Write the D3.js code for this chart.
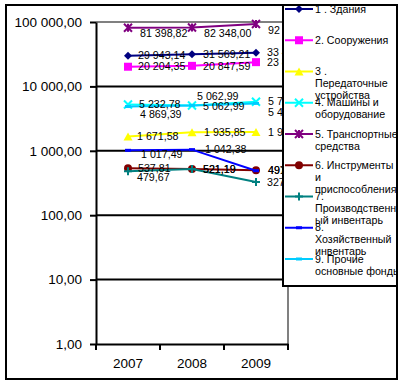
<!DOCTYPE html>
<html><head><meta charset="utf-8">
<script src="https://cdn.jsdelivr.net/npm/d3@7"></script>
<style>
html,body{margin:0;padding:0;background:#fff;}
svg{display:block;font-family:"Liberation Sans",Arial,sans-serif;}
</style></head>
<body><svg id="c" width="401" height="384"></svg>
<script>
// ---------- DATA ----------
const years = ["2007", "2008", "2009"];
const seriesNames = [
  ["1 . Здания"],
  ["2. Сооружения"],
  ["3 .", "Передаточные", "устройства"],
  ["4. Машины и", "оборудование"],
  ["5. Транспортные", "средства"],
  ["6. Инструменты", "и", "приспособления"],
  ["7.", "Производственн", "ый инвентарь"],
  ["8.", "Хозяйственный", "инвентарь"],
  ["9. Прочие", "основные фонды"]
];
const buildings      = [29943.14, 31569.21, 33450.00];
const structures     = [20204.35, 20847.59, 23800.00];
const transmission   = [1671.58, 1935.85, 1960.00];
const machinery      = [5232.78, 5062.99, 5790.00];
const transport      = [81398.82, 82348.00, 92950.00];
const tools          = [537.81, 521.19, 497.00];
const prodInventory  = [479.67, 521.19, 327.00];
const houseInventory = [1017.49, 1042.38, 491.00];
const otherFunds     = [4869.39, 5062.99, 5450.00];
const yTicks = [1, 10, 100, 1000, 10000, 100000];

const seriesValues = [buildings, structures, transmission, machinery, transport,
                      tools, prodInventory, houseInventory, otherFunds];

// ---------- STYLE ----------
const colors  = ["#000080", "#FF00FF", "#FFFF00", "#00FFFF", "#800080",
                 "#800000", "#008080", "#0000FF", "#00CCFF"];
const markers = ["diamond", "square", "triangle", "x", "star", "circle", "plus", "dash", "dash"];
// label offsets (dx, dy) per series per year
const labelOff = [
  [[10,0],[11,0],[11,0]],
  [[10,0],[11,0],[11,0]],
  [[9,0],[12,0],[12,0]],
  [[11,0],[5,-9],[12,0]],
  [[12,6],[12,6],[12,6]],
  [[10,0],[11,0],[12,0]],
  [[9,6],[11,0],[11,0]],
  [[13,4],[13,0],[12,0]],
  [[12,8],[11,1],[12,9]]
];

const svg = d3.select("#c");
const M = {left: 96, right: 288, top: 22, bottom: 344};

const loc = d3.formatLocale({decimal: ",", thousands: "\u00a0", grouping: [3], currency: ["", ""]});
const fmt = loc.format(",.2f");

const x = d3.scaleBand().domain(years).range([M.left, M.right]);
const cx = d => x(d) + x.bandwidth() / 2;
const y = d3.scaleLog().domain([1, 100000]).range([M.bottom, M.top]);

// outer border
svg.append("rect").attr("x", 6).attr("y", 5).attr("width", 391).attr("height", 374)
  .attr("fill", "none").attr("stroke", "#000").attr("stroke-width", 2);

// gridlines
svg.append("g").selectAll("line").data(yTicks.filter(t => t > 1))
  .join("line")
  .attr("x1", M.left).attr("x2", M.right)
  .attr("y1", d => y(d)).attr("y2", d => y(d))
  .attr("stroke", d => d === 100000 ? "#808080" : "#000")
  .attr("stroke-width", 2);
// right frame
svg.append("line").attr("x1", M.right).attr("x2", M.right)
  .attr("y1", M.top).attr("y2", M.bottom).attr("stroke", "#808080").attr("stroke-width", 2);

// y axis
const gy = svg.append("g").attr("transform", `translate(${M.left},0)`)
  .call(d3.axisLeft(y).tickValues(yTicks).tickFormat(fmt).tickSize(6).tickPadding(8).tickSizeOuter(0));
gy.select(".domain").attr("stroke", "#000").attr("stroke-width", 2);
gy.selectAll(".tick line").attr("stroke", "#000").attr("stroke-width", 2);
gy.selectAll(".tick text").attr("font-size", "13.5px").attr("fill", "#000")
  .attr("font-family", "Liberation Sans, Arial, sans-serif");

// x axis
const gx = svg.append("g").attr("transform", `translate(0,${M.bottom})`)
  .call(d3.axisBottom(x).tickSize(0).tickPadding(14).tickSizeOuter(0));
gx.select(".domain").attr("stroke", "#000").attr("stroke-width", 2);
gx.selectAll(".tick text").attr("font-size", "13.5px").attr("fill", "#000")
  .attr("font-family", "Liberation Sans, Arial, sans-serif");
const bounds = d3.range(years.length + 1).map(i => M.left + i * x.step());
gx.append("g").selectAll("line").data(bounds).join("line")
  .attr("x1", d => d).attr("x2", d => d).attr("y1", 0).attr("y2", 6)
  .attr("stroke", "#000").attr("stroke-width", 2);

// marker drawing
function drawMarker(g, type, color, r) {
  switch (type) {
    case "diamond":
      g.append("path").attr("d", `M0,${-r}L${r},0L0,${r}L${-r},0Z`).attr("fill", color); break;
    case "square":
      g.append("rect").attr("x", -r).attr("y", -r).attr("width", 2*r).attr("height", 2*r).attr("fill", color); break;
    case "triangle":
      g.append("path").attr("d", `M0,${-r}L${r+0.5},${r}L${-r-0.5},${r}Z`).attr("fill", color); break;
    case "x":
      g.append("path").attr("d", `M${-r},${-r}L${r},${r}M${-r},${r}L${r},${-r}`)
        .attr("stroke", color).attr("stroke-width", 2).attr("fill", "none"); break;
    case "star":
      g.append("path").attr("d", `M${-r},${-r}L${r},${r}M${-r},${r}L${r},${-r}M0,${-r}L0,${r}`)
        .attr("stroke", color).attr("stroke-width", 2).attr("fill", "none"); break;
    case "circle":
      g.append("circle").attr("r", r).attr("fill", color); break;
    case "plus":
      g.append("path").attr("d", `M${-r},0L${r},0M0,${-r}L0,${r}`)
        .attr("stroke", color).attr("stroke-width", 2).attr("fill", "none"); break;
    case "dash":
      g.append("rect").attr("x", -3).attr("y", -1.5).attr("width", 6).attr("height", 3).attr("fill", color); break;
  }
}

const line = d3.line().x((d, i) => cx(years[i])).y(d => y(d));

// series
seriesValues.forEach((vals, s) => {
  const g = svg.append("g");
  g.append("path").datum(vals).attr("d", line)
    .attr("fill", "none").attr("stroke", colors[s]).attr("stroke-width", 2);
  vals.forEach((v, i) => {
    const mg = g.append("g").attr("transform", `translate(${cx(years[i])},${y(v)})`);
    drawMarker(mg, markers[s], colors[s], 4);
  });
});

// data labels
seriesValues.forEach((vals, s) => {
  svg.append("g").selectAll("text").data(vals).join("text")
    .attr("x", (d, i) => cx(years[i]) + labelOff[s][i][0])
    .attr("y", (d, i) => y(d) + labelOff[s][i][1])
    .attr("dy", "0.35em")
    .attr("font-size", "10.67px").attr("fill", "#000")
    .text(d => fmt(d));
});

// legend
const L = {x: 283, y: 5, w: 114, h: 281};
svg.append("clipPath").attr("id", "lc").append("rect")
  .attr("x", L.x).attr("y", L.y).attr("width", L.w - 1).attr("height", L.h);
svg.append("rect").attr("x", L.x).attr("y", L.y).attr("width", L.w).attr("height", L.h)
  .attr("fill", "#fff").attr("stroke", "none");
const lg = svg.append("g").attr("clip-path", "url(#lc)");
seriesNames.forEach((lines, s) => {
  const yy = 9 + s * 31.25;
  lg.append("line").attr("x1", 285).attr("x2", 313).attr("y1", yy).attr("y2", yy)
    .attr("stroke", colors[s]).attr("stroke-width", 2);
  const mg = lg.append("g").attr("transform", `translate(299,${yy})`);
  drawMarker(mg, markers[s], colors[s], 4);
  const t = lg.append("text").attr("x", 315).attr("y", yy).attr("dy", "0.35em")
    .attr("font-size", "10.67px").attr("fill", "#000");
  lines.forEach((ln, k) => {
    t.append("tspan").attr("x", 315).attr("dy", k === 0 ? "0.35em" : "11.8px").text(ln);
  });
  t.attr("dy", null);
});
svg.append("rect").attr("x", L.x).attr("y", L.y).attr("width", L.w).attr("height", L.h)
  .attr("fill", "none").attr("stroke", "#000").attr("stroke-width", 2);
</script>
</body></html>
